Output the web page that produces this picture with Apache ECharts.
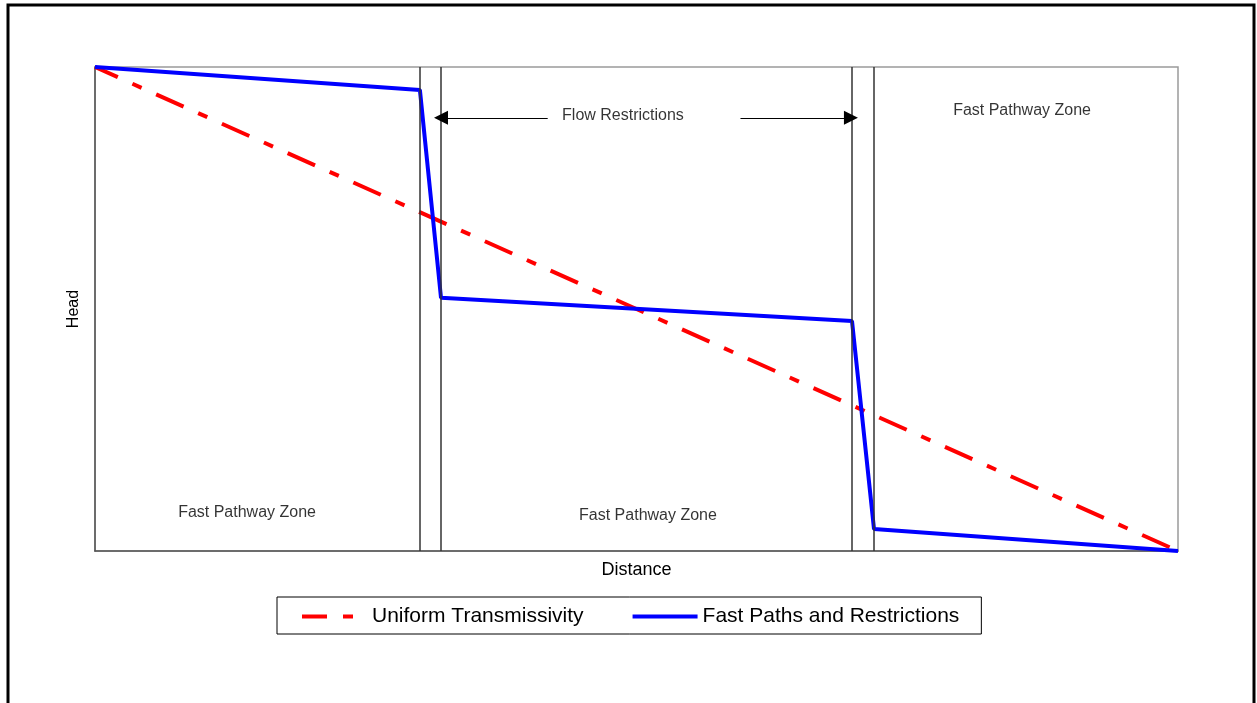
<!DOCTYPE html>
<html>
<head>
<meta charset="utf-8">
<script src="https://cdn.jsdelivr.net/npm/echarts@6/dist/echarts.min.js"></script>
<style>
html,body{margin:0;padding:0;background:#fff;}
#chart{width:1257px;height:703px;}
</style>
</head>
<body>
<div id="chart"></div>
<script>
// ---- data (normalized distance 0-100, head 0-100) ----
const seriesNames = ['Uniform Transmissivity', 'Fast Paths and Restrictions'];
const uniformX = [0, 100];
const uniformY = [100, 0];
const fastX = [0, 30.0, 31.95, 69.9, 71.93, 100];
const fastY = [100, 95.25, 52.3, 47.5, 4.55, 0];
const boundaryX = [30.0, 31.95, 69.9, 71.93];
const arrowY = 89.5;
const arrowLeft = [41.8, 31.95];   // from, arrowhead centre
const arrowRight = [59.6, 69.8];   // from, arrowhead centre
const zoneLabels = ['Fast Pathway Zone', 'Fast Pathway Zone', 'Fast Pathway Zone', 'Flow Restrictions'];
const zoneLabelX = [14.04, 51.06, 85.6, 48.75];
const zoneLabelY = [7.9, 7.3, 90.9, 89.9];
const axisNames = ['Distance', 'Head'];

const chart = echarts.init(document.getElementById('chart'));
const FONT = 'Liberation Sans, Arial, sans-serif';

const option = {
  backgroundColor: '#ffffff',
  animation: false,
  grid: {left: 95, top: 67, right: 79, bottom: 152, show: true, borderColor: '#9a9a9a', borderWidth: 1.5},
  xAxis: {
    type: 'value', min: 0, max: 100,
    name: axisNames[0], nameLocation: 'middle', nameGap: 10,
    nameTextStyle: {fontFamily: FONT, fontSize: 18, color: '#000'},
    axisLine: {show: true, lineStyle: {color: '#555', width: 1.5}},
    axisTick: {show: false}, axisLabel: {show: false}, splitLine: {show: false}
  },
  yAxis: {
    type: 'value', min: 0, max: 100,
    name: axisNames[1], nameLocation: 'middle', nameGap: 13, nameRotate: 90,
    nameTextStyle: {fontFamily: FONT, fontSize: 16, color: '#000'},
    axisLine: {show: true, lineStyle: {color: '#555', width: 1.5}},
    axisTick: {show: false}, axisLabel: {show: false}, splitLine: {show: false}
  },
  legend: {
    data: seriesNames,
    left: 277, top: 597,
    itemWidth: 65, itemHeight: 14, itemGap: 47,
    padding: [9, 22, 7, 23],
    borderColor: '#000', borderWidth: 1,
    itemStyle: {opacity: 0},
    lineStyle: {width: 4},
    textStyle: {fontFamily: FONT, fontSize: 21, color: '#000'}
  },
  graphic: [{
    type: 'rect', z: 100, silent: true,
    shape: {x: 8, y: 5, width: 1246, height: 720},
    style: {fill: 'none', stroke: '#000', lineWidth: 3}
  }],
  series: [
    {
      name: seriesNames[0], type: 'line', symbol: 'none', z: 3,
      data: uniformX.map((x, i) => [x, uniformY[i]]),
      lineStyle: {color: '#ff0000', width: 4, type: [30, 16, 10, 16], dashOffset: 5, cap: 'butt'},
      itemStyle: {color: '#ff0000'}
    },
    {
      name: seriesNames[1], type: 'line', symbol: 'none', z: 4,
      data: fastX.map((x, i) => [x, fastY[i]]),
      lineStyle: {color: '#0000ff', width: 4},
      itemStyle: {color: '#0000ff'}
    },
    {
      name: 'annotations', type: 'scatter', symbolSize: 0, z: 5,
      data: zoneLabelX.map((x, i) => ({value: [x, zoneLabelY[i]], name: zoneLabels[i]})),
      label: {show: true, position: 'inside', formatter: p => p.name,
              fontFamily: FONT, fontSize: 16, color: '#000'},
      markLine: {
        silent: true, animation: false,
        symbol: ['none', 'none'],
        label: {show: false},
        lineStyle: {color: '#333', width: 1.5, type: 'solid'},
        data: boundaryX.map(x => ({xAxis: x})).concat([
          [{coord: [arrowLeft[0], arrowY], symbol: 'none'}, {coord: [arrowLeft[1], arrowY], symbol: 'triangle', symbolSize: [14, 14], symbolRotate: 90}],
          [{coord: [arrowRight[0], arrowY], symbol: 'none'}, {coord: [arrowRight[1], arrowY], symbol: 'triangle', symbolSize: [14, 14], symbolRotate: -90}]
        ].map(pair => pair.map(p => Object.assign(p, {lineStyle: {color: '#000', width: 1.2}, itemStyle: {color: '#000'}}))))
      }
    }
  ]
};
chart.setOption(option);
</script>
</body>
</html>
